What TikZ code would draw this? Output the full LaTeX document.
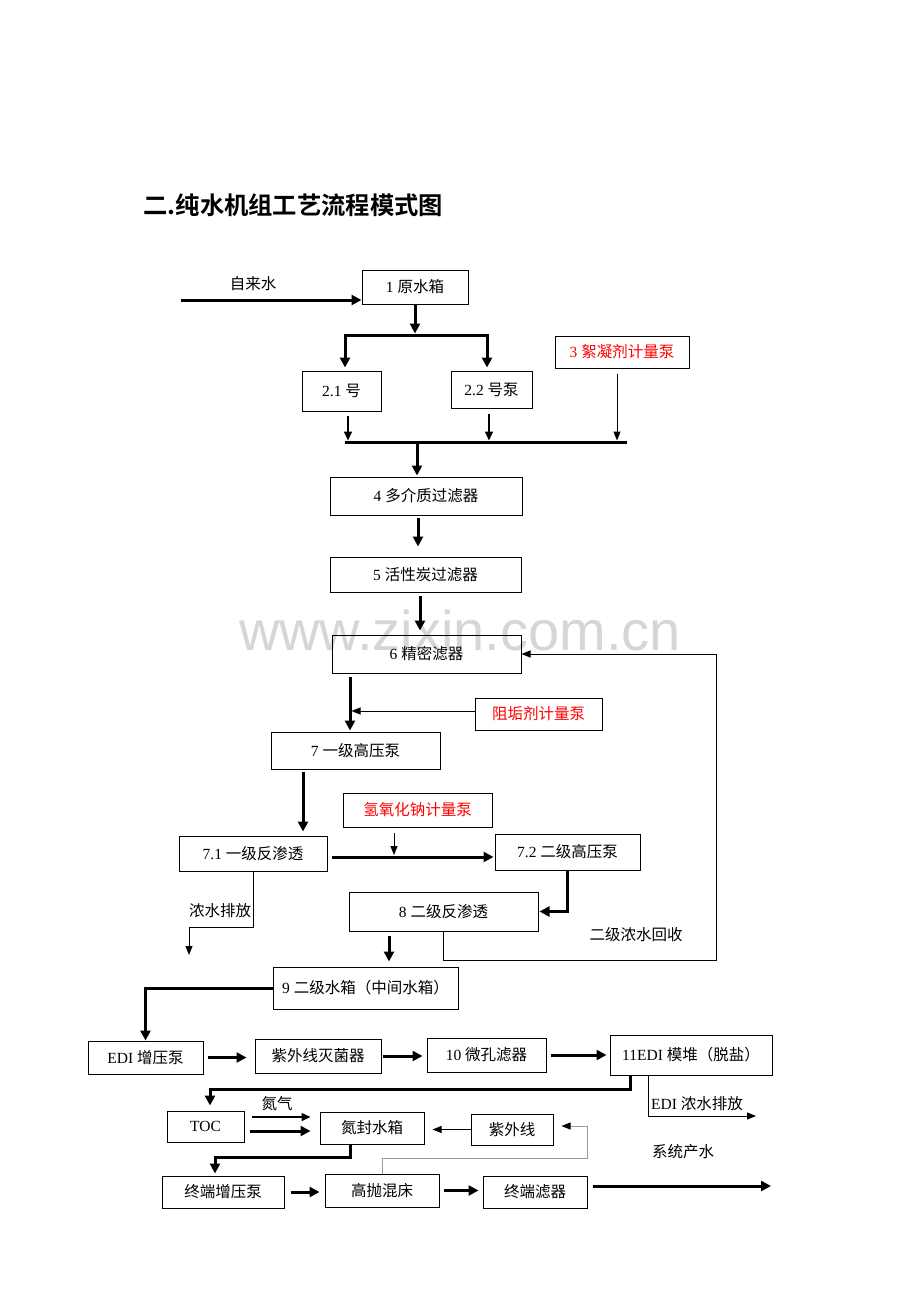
\documentclass[tikz,border=0pt]{standalone}
\usepackage{fontspec}
\setmainfont{Liberation Serif}
\newfontfamily\cjk{Noto Sans CJK SC}[BoldFont={Noto Sans CJK SC Bold}]
\newfontfamily\wmfont{Liberation Sans}
\usetikzlibrary{arrows.meta}
\definecolor{dosing}{HTML}{FF0000}
\definecolor{loopline}{HTML}{9A9A9A}
\definecolor{watermark}{HTML}{D6D6D6}
\tikzset{%
    pwbox/.style={draw, line width=1pt, inner sep=0pt, font=\fontsize{15.5}{18}\selectfont},
    dosebox/.style={pwbox, text=dosing},
    pwlabel/.style={font=\fontsize{15.5}{18}\selectfont},
    mainline/.style={line width=3pt},
    mainflow/.style={line width=3pt, -{Triangle[length=10pt,width=10pt]}},
    sideflow/.style={line width=1pt, -{Triangle[length=9pt,width=7pt]}},
    dropflow/.style={line width=1.6pt, -{Triangle[length=9pt,width=8pt]}},
    loopflow/.style={line width=0.8pt, color=loopline, -{Triangle[length=9pt,width=7pt,color=black]}}
}
\newcommand\PWBox[7][pwbox]{%
    \pgfmathsetmacro\PWw{#5-#3}\pgfmathsetmacro\PWh{#6-#4}%
    \node[#1, minimum width=\PWw pt, minimum height=\PWh pt] (#2) at ({(#3+#5)/2},{(#4+#6)/2}) {#7}
}

\begin{document}
\begin{tikzpicture}[x=1pt,y=-1pt]
      \useasboundingbox (0,0) rectangle (920,1302);
      \node[text=watermark, font=\wmfont\fontsize{56}{60}\selectfont] (Watermark) at (460,630) {www.zixin.com.cn};
      \node[anchor=west, font=\fontsize{24.3}{27}\selectfont\cjk\bfseries] (Title) at (140,205) {二.纯水机组工艺流程模式图};

      \PWBox{RawTank}{362}{270}{468}{304}{1 {\cjk 原水箱}};
      \PWBox{PumpA}{302}{371}{381}{411}{2.1 {\cjk 号}};
      \PWBox{PumpB}{451}{371}{532}{408}{2.2 {\cjk 号泵}};
      \PWBox[dosebox]{FlocDose}{555}{336}{689}{368}{3 {\cjk 絮凝剂计量泵}};
      \PWBox{MediaFilter}{330}{477}{522}{515}{4 {\cjk 多介质过滤器}};
      \PWBox{CarbonFilter}{330}{557}{521}{592}{5 {\cjk 活性炭过滤器}};
      \PWBox{FineFilter}{332}{635}{521}{673}{6 {\cjk 精密滤器}};
      \PWBox[dosebox]{ScaleDose}{475}{698}{602}{730}{\cjk 阻垢剂计量泵};
      \PWBox{HPPumpA}{271}{732}{440}{769}{7 {\cjk 一级高压泵}};
      \PWBox[dosebox]{NaOHDose}{343}{793}{492}{827}{\cjk 氢氧化钠计量泵};
      \PWBox{ROA}{179}{836}{327}{871}{7.1 {\cjk 一级反渗透}};
      \PWBox{HPPumpB}{495}{834}{640}{870}{7.2 {\cjk 二级高压泵}};
      \PWBox{ROB}{349}{892}{538}{931}{8 {\cjk 二级反渗透}};
      \PWBox{MidTank}{273}{967}{458}{1009}{9 {\cjk 二级水箱（中间水箱）}};
      \PWBox{EDIPump}{88}{1041}{203}{1074}{EDI {\cjk 增压泵}};
      \PWBox{UVSteril}{255}{1039}{381}{1073}{\cjk 紫外线灭菌器};
      \PWBox{MicroFilter}{427}{1038}{546}{1072}{10 {\cjk 微孔滤器}};
      \PWBox{EDIStack}{610}{1035}{772}{1075}{11EDI {\cjk 模堆（脱盐）}};
      \PWBox{TOC}{167}{1111}{244}{1142}{TOC};
      \PWBox{NTank}{320}{1112}{424}{1144}{\cjk 氮封水箱};
      \PWBox{UVLamp}{471}{1114}{553}{1145}{\cjk 紫外线};
      \PWBox{EndPump}{162}{1176}{284}{1208}{\cjk 终端增压泵};
      \PWBox{Polisher}{325}{1174}{439}{1207}{\cjk 高抛混床};
      \PWBox{EndFilter}{483}{1176}{587}{1208}{\cjk 终端滤器};

      \node[pwlabel] (TapLabel) at (253,284) {\cjk 自来水};
      \node[pwlabel] (DrainLabel) at (220,911) {\cjk 浓水排放};
      \node[pwlabel] (ReturnLabel) at (636,935) {\cjk 二级浓水回收};
      \node[pwlabel] (NitrogenLabel) at (277,1104) {\cjk 氮气};
      \node[pwlabel] (EDIDrainLabel) at (697,1104) {EDI {\cjk 浓水排放}};
      \node[pwlabel] (ProductLabel) at (683,1152) {\cjk 系统产水};

      \coordinate (TapIn) at (181,300);
      \draw[mainflow] (TapIn) -- (TapIn -| RawTank.west);

      \coordinate (SplitC) at (415,335);
      \coordinate (SplitL) at (345,335);
      \coordinate (SplitR) at (487,335);
      \draw[mainflow, shorten >=1.5pt] (RawTank.south) -- (SplitC);
      \draw[mainline, {Triangle[length=10pt,width=10pt]}-{Triangle[length=10pt,width=10pt]}, shorten <=3pt, shorten >=3pt]
          (SplitL |- PumpA.north) -- (SplitL) -- (SplitR) -- (SplitR |- PumpB.north);

      \coordinate (DropA) at (348,442);
      \coordinate (DropB) at (489,442);
      \coordinate (DropC) at (617,442);
      \coordinate (MixL) at (345,442);
      \coordinate (MixR) at (627,442);
      \coordinate (MixOut) at (417,442);
      \draw[dropflow, shorten <=4pt, shorten >=1.5pt] (DropA |- PumpA.south) -- (DropA);
      \draw[dropflow, shorten <=5pt, shorten >=1.5pt] (DropB |- PumpB.south) -- (DropB);
      \draw[sideflow, shorten <=5pt, shorten >=1.5pt] (DropC |- FlocDose.south) -- (DropC);
      \draw[mainline] (MixL) -- (MixR);
      \draw[mainflow, shorten <=1.5pt, shorten >=1pt] (MixOut) -- (MixOut |- MediaFilter.north);

      \coordinate (MediaOut) at (418,515);
      \draw[mainflow, shorten <=3pt, shorten >=10pt] (MediaOut) -- (MediaOut |- CarbonFilter.north);
      \coordinate (CarbonOut) at (420,592);
      \draw[mainflow, shorten <=4pt, shorten >=4pt] (CarbonOut) -- (CarbonOut |- FineFilter.north);

      \coordinate (FineOut) at (350,673);
      \draw[mainflow, shorten <=4pt, shorten >=1pt] (FineOut) -- (FineOut |- HPPumpA.north);
      \coordinate (ScaleIn) at (351.5,711);
      \draw[sideflow] (ScaleDose.west |- ScaleIn) -- (ScaleIn);

      \coordinate (HPAOut) at (303,769);
      \draw[mainflow, shorten <=3pt, shorten >=4pt] (HPAOut) -- (HPAOut |- ROA.north);
      \coordinate (NaOHIn) at (394,855);
      \draw[sideflow, shorten <=5pt] (NaOHIn |- NaOHDose.south) -- (NaOHIn);
      \coordinate (ROAOut) at (327,857);
      \draw[mainflow, shorten <=5pt, shorten >=1pt] (ROAOut) -- (ROAOut -| HPPumpB.west);
      \draw[mainflow, shorten >=1pt] (HPPumpB.south) |- (ROB.east);

      \coordinate (DrainTurn) at (189,927);
      \coordinate (DrainEnd) at (189,955);
      \draw[sideflow] (ROA.south) |- (DrainTurn) -- (DrainEnd);
      \coordinate (ReturnCorner) at (716,960);
      \draw[sideflow] (ROB.south) |- (ReturnCorner) |- (FineFilter.east);

      \coordinate (ROBOut) at (389,931);
      \draw[mainflow, shorten <=5pt, shorten >=5pt] (ROBOut) -- (ROBOut |- MidTank.north);
      \draw[mainflow] (MidTank.west) -| (EDIPump.north);

      \draw[mainflow, shorten <=4pt, shorten >=8pt] (EDIPump.east) -- (EDIPump.east -| UVSteril.west);
      \draw[mainflow, shorten <=1pt, shorten >=4pt] (UVSteril.east) -- (UVSteril.east -| MicroFilter.west);
      \draw[mainflow, shorten <=4pt, shorten >=3pt] (MicroFilter.east) -- (MicroFilter.east -| EDIStack.west);

      \coordinate (StackOut) at (630,1075);
      \coordinate (TOCTurn) at (210,1089);
      \draw[mainflow, shorten >=5pt] (StackOut) |- (TOCTurn) -- (TOCTurn |- TOC.north);
      \coordinate (StackDrain) at (648,1075);
      \coordinate (EDIDrainEnd) at (756,1116);
      \draw[sideflow] (StackDrain) |- (EDIDrainEnd);

      \coordinate (NitrogenIn) at (252,1117);
      \draw[dropflow, shorten >=9pt] (NitrogenIn) -- (NitrogenIn -| NTank.west);
      \coordinate (TOCOut) at (244,1131);
      \draw[mainflow, shorten <=6pt, shorten >=9pt] (TOCOut) -- (TOCOut -| NTank.west);
      \draw[sideflow, shorten >=8pt] (UVLamp.west) -- (UVLamp.west -| NTank.east);

      \coordinate (LoopCorner) at (587,1158);
      \coordinate (LoopIn) at (587,1126);
      \draw[loopflow, shorten >=8pt] (Polisher.north) |- (LoopCorner) -- (LoopIn) -- (LoopIn -| UVLamp.east);

      \coordinate (NTankOut) at (350,1144);
      \coordinate (EndTurn) at (215,1157);
      \draw[mainflow, shorten >=2pt] (NTankOut) |- (EndTurn) -- (EndTurn |- EndPump.north);

      \draw[mainflow, shorten <=6pt, shorten >=5pt] (EndPump.east) -- (EndPump.east -| Polisher.west);
      \draw[mainflow, shorten <=4pt, shorten >=4pt] (Polisher.east) -- (Polisher.east -| EndFilter.west);
      \coordinate (ProductOut) at (771,1186);
      \draw[mainflow, shorten <=5pt] (ProductOut -| EndFilter.east) -- (ProductOut);
\end{tikzpicture}
\end{document}
